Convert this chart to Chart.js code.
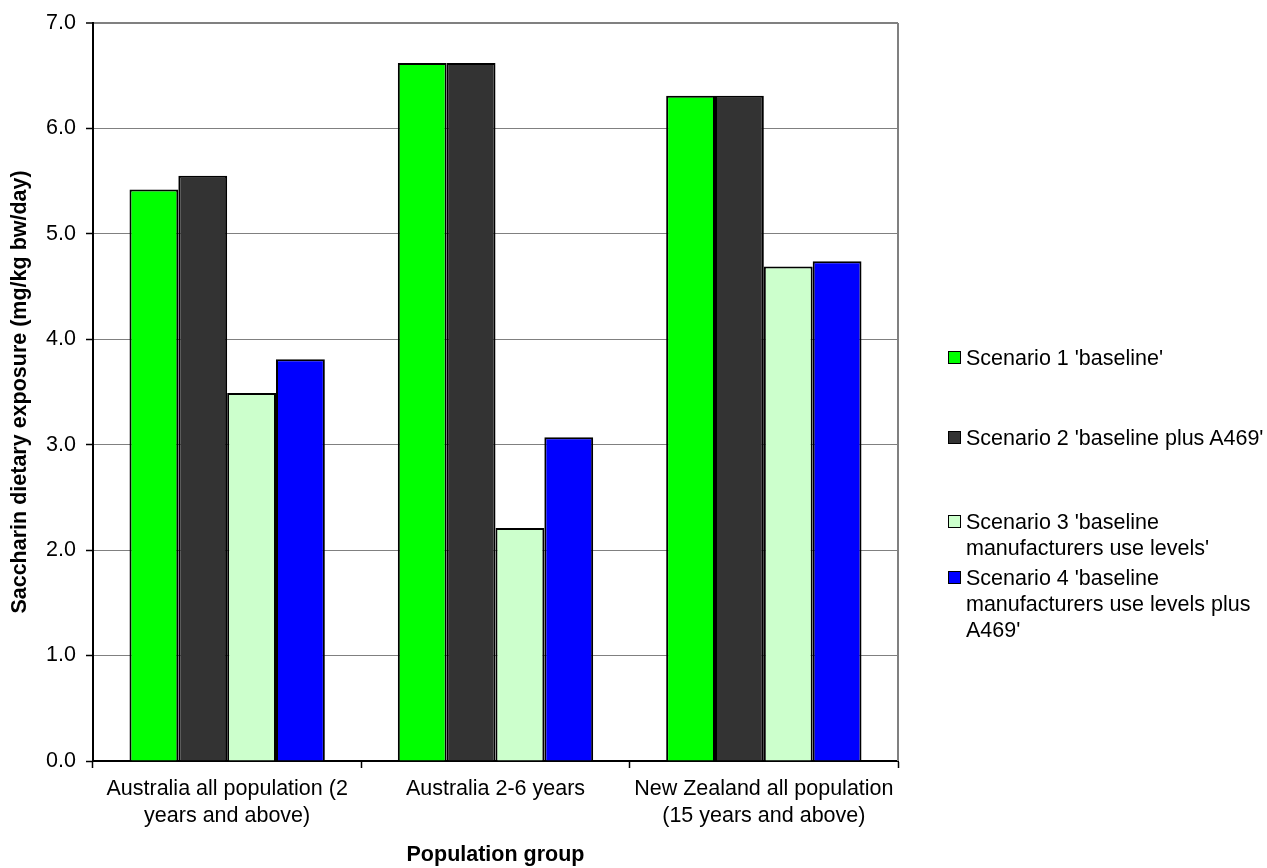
<!DOCTYPE html>
<html>
<head>
<meta charset="utf-8">
<title>Saccharin dietary exposure</title>
<style>
*{padding:0;margin:0;box-sizing:border-box}
body {background:#ffffff; font-family:'Liberation Sans', Arial, sans-serif}
.wrapper {position:relative; width:1267px; height:868px}
#legend {position:absolute; left:0; top:0; width:1267px; height:868px; pointer-events:none}
.item {position:absolute; left:948px; font-size:21.5px; line-height:26px; color:#000}
.item .box {position:absolute; left:0; top:6px; width:13px; height:13px; border:1.5px solid #000}
.item .txt {position:absolute; left:18px; white-space:nowrap}
</style>
</head>
<body>
<div class="wrapper">
<canvas id="myChart"></canvas>
<div id="legend"></div>
</div>
<script src="https://cdn.jsdelivr.net/npm/chart.js"></script>
<script>
const groups = [
  ['Australia all population (2', 'years and above)'],
  'Australia 2-6 years',
  ['New Zealand all population', '(15 years and above)'],
];
const scenarioNames = [
  ["Scenario 1 'baseline'"],
  ["Scenario 2 'baseline plus A469'"],
  ["Scenario 3 'baseline", "manufacturers use levels'"],
  ["Scenario 4 'baseline", "manufacturers use levels plus", "A469'"],
];
const scenario1 = [5.42, 6.62, 6.31];
const scenario2 = [5.55, 6.62, 6.31];
const scenario3 = [3.49, 2.21, 4.69];
const scenario4 = [3.81, 3.07, 4.74];
const yTicks = [0, 1, 2, 3, 4, 5, 6, 7];

const fillColors = ['#00ff00', '#333333', '#ccffcc', '#0000ff'];
const legendTops = [345, 425, 509, 565];
const font = "'Liberation Sans', Arial, sans-serif";

const series = [scenario1, scenario2, scenario3, scenario4];
const datasets = series.map((vals, i) => ({
  label: scenarioNames[i].join(' '),
  data: vals,
  backgroundColor: fillColors[i],
  borderColor: '#000000',
  borderWidth: 2,
  categoryPercentage: 0.728,
  barPercentage: 1.0,
}));

// html legend, keeps the line breaks of the original
let legendHtml = '';
scenarioNames.forEach((lines, i) => {
  let t = '';
  lines.forEach(l => t += `<div>${l}</div>`);
  legendHtml += `<div class="item" style="top:${legendTops[i]}px"><div class="box" style="background:${fillColors[i]}"></div><div class="txt">${t}</div></div>`;
});
document.getElementById('legend').innerHTML = legendHtml;

const frame = {
  id: 'frame',
  beforeDatasetsDraw(chart) {
    const { ctx, chartArea } = chart;
    ctx.save();
    ctx.strokeStyle = '#808080';
    ctx.lineWidth = 2;
    ctx.beginPath();
    ctx.moveTo(chartArea.right, chartArea.top);
    ctx.lineTo(chartArea.right, chartArea.bottom);
    ctx.stroke();
    ctx.restore();
  },
};

const canvas = document.getElementById('myChart');
canvas.width = 1267;
canvas.height = 868;
Chart.defaults.font.family = font;
Chart.defaults.font.size = 21.5;
Chart.defaults.color = '#000000';

new Chart(canvas.getContext('2d'), {
  type: 'bar',
  data: {
    labels: groups,
    datasets: datasets,
  },
  options: {
    responsive: false,
    animation: false,
    devicePixelRatio: 1,
    plugins: {
      legend: { display: false },
      tooltip: { enabled: false },
    },
    layout: {
      padding: { left: 0, top: 22, right: 369, bottom: 0 },
    },
    scales: {
      x: {
        afterFit: (scale) => { scale.height = 107; },
        grid: {
          offset: true,
          drawOnChartArea: false,
          drawTicks: true,
          tickLength: 7,
          tickColor: '#000000',
          tickWidth: 1.5,
        },
        border: { color: '#000000', width: 2 },
        ticks: {
          padding: 8,
          maxRotation: 0,
          autoSkip: false,
          font: { size: 21.5, lineHeight: '27px' },
        },
        title: {
          display: true,
          text: 'Population group',
          font: { size: 21.5, weight: 'bold' },
          padding: { top: 0, bottom: 0 },
        },
      },
      y: {
        min: 0,
        max: 7,
        afterFit: (scale) => { scale.width = 93; },
        afterBuildTicks: (scale) => { scale.ticks = yTicks.map(v => ({ value: v })); },
        grid: {
          color: '#808080',
          lineWidth: (c) => (c.tick && c.tick.value == 7 ? 2 : 1),
          tickLength: 7,
          tickColor: '#000000',
          tickWidth: 1.5,
        },
        border: { color: '#000000', width: 2 },
        ticks: {
          padding: 10,
          callback: (value) => Number(value).toFixed(1),
        },
        title: {
          display: true,
          text: 'Saccharin dietary exposure (mg/kg bw/day)',
          font: { size: 21.5, weight: 'bold' },
          padding: { top: 7, bottom: 0 },
        },
      },
    },
  },
  plugins: [frame],
});
</script>
</body>
</html>
